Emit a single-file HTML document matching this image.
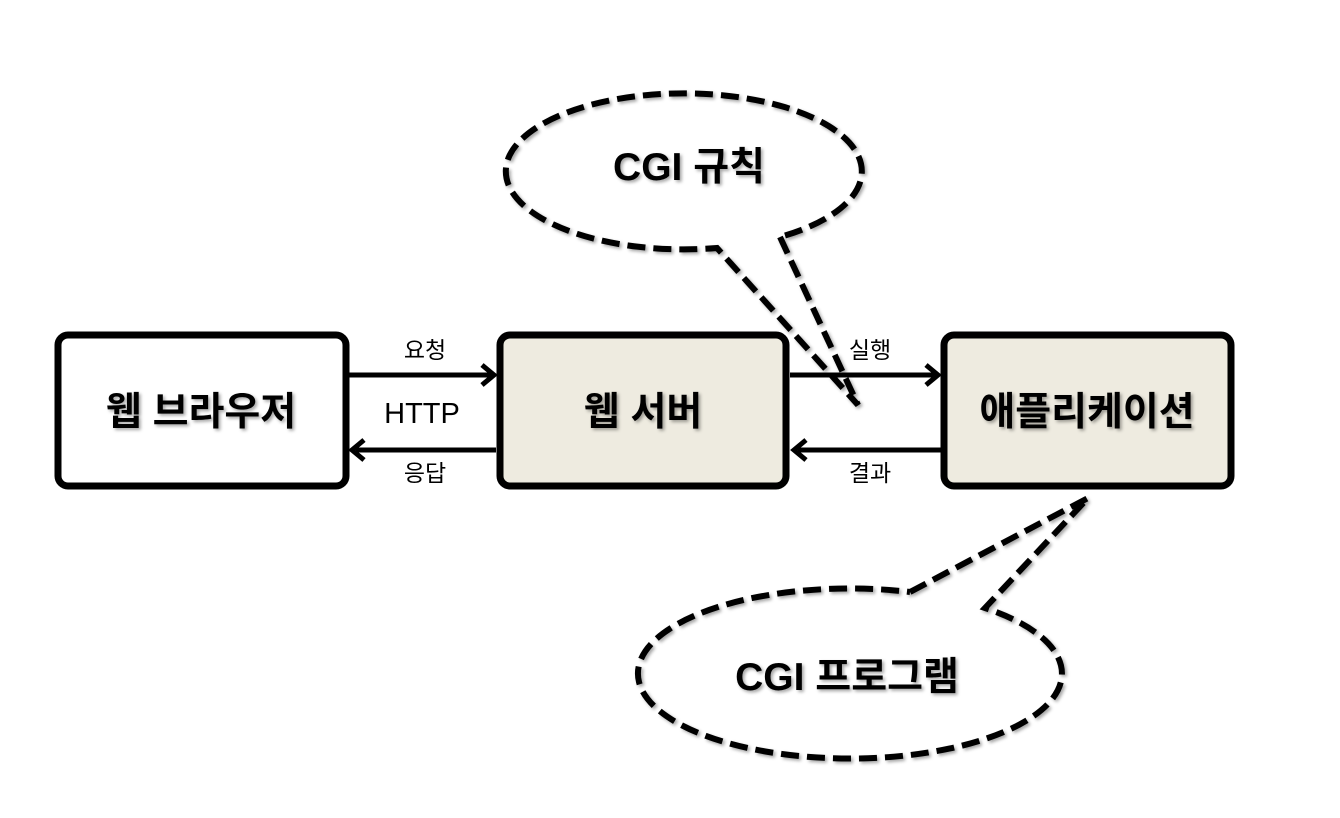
<!DOCTYPE html>
<html><head><meta charset="utf-8"><style>
html,body{margin:0;padding:0;background:#fff}
svg{display:block}
text{font-family:"Liberation Sans","Noto Sans CJK KR",sans-serif}
</style></head><body>
<svg width="1340" height="818" viewBox="0 0 1340 818" xmlns="http://www.w3.org/2000/svg">
<defs>
<filter id="sh" x="-10%" y="-10%" width="130%" height="130%"><feDropShadow dx="2" dy="2" stdDeviation="1.5" flood-color="#000" flood-opacity="0.35"/></filter>
</defs>
<rect x="58" y="335" width="288" height="151" rx="10" fill="#fff" stroke="#000" stroke-width="7"/>
<rect x="500" y="335" width="286" height="151" rx="10" fill="#eeebe0" stroke="#000" stroke-width="7"/>
<rect x="944" y="335" width="287" height="151" rx="10" fill="#eeebe0" stroke="#000" stroke-width="7"/>
<g font-weight="bold" font-size="39" text-anchor="middle" filter="url(#sh)">
<text x="201" y="425">웹 브라우저</text>
<text x="643" y="425">웹 서버</text>
<text x="1087" y="425">애플리케이션</text>
</g>
<g stroke="#000" stroke-width="5" fill="none">
<line x1="348" y1="375" x2="490" y2="375"/><path d="M482 365 L494 375 L482 385"/>
<line x1="496" y1="450" x2="356" y2="450"/><path d="M364 440 L352 450 L364 460"/>
<line x1="790" y1="375" x2="934" y2="375"/><path d="M926 365 L938 375 L926 385"/>
<line x1="942" y1="450" x2="798" y2="450"/><path d="M806 440 L794 450 L806 460"/>
</g>
<g font-size="23" text-anchor="middle">
<text x="425" y="358">요청</text>
<text x="425" y="481">응답</text>
<text x="870" y="358">실행</text>
<text x="870" y="481">결과</text>
<text x="422" y="423" font-size="29">HTTP</text>
</g>
<g fill="none" stroke="#000" stroke-width="6" stroke-dasharray="18 8" filter="url(#sh)">
<path d="M780 237 L858 405 L717 248 A178 78 0 1 1 780 237"/>
<path d="M910 592 L1088 498 L985 608 A212 85 0 1 1 910 592"/>
</g>
<g font-weight="bold" font-size="39" text-anchor="middle" filter="url(#sh)">
<text x="689" y="180">CGI 규칙</text>
<text x="847" y="690">CGI 프로그램</text>
</g>
</svg>
</body></html>
